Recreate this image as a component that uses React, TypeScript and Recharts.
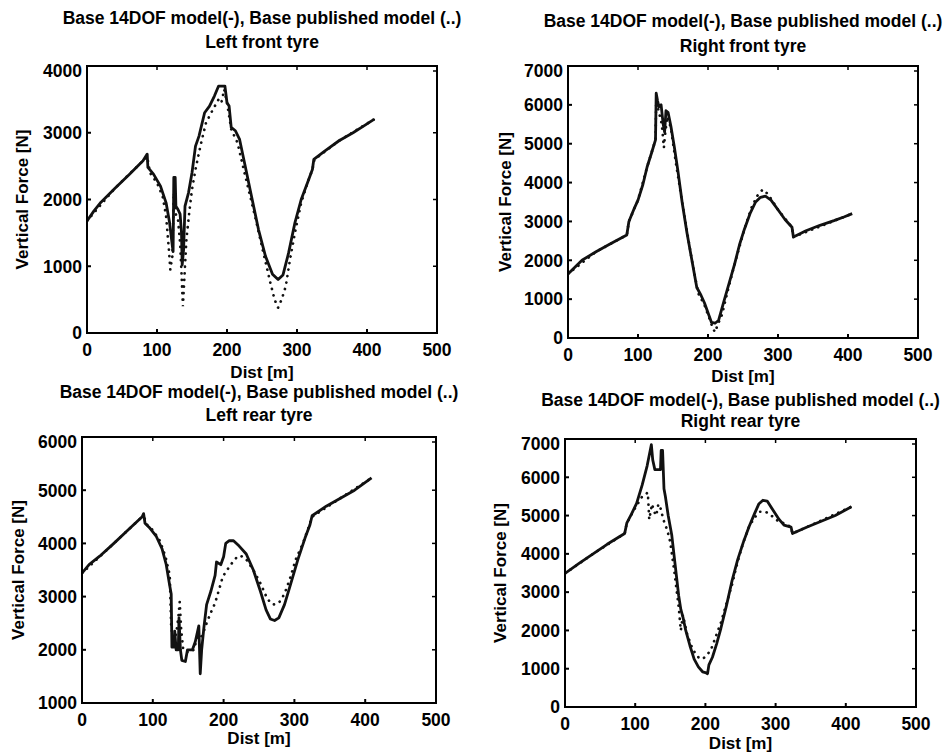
import { LineChart, Line, XAxis, YAxis, ReferenceArea } from "recharts";

// tick values
const distTicks = [0, 100, 200, 300, 400, 500];
const lfForceTicks = [0, 1000, 2000, 3000, 4000];
const sevenKTicks = [0, 1000, 2000, 3000, 4000, 5000, 6000, 7000];
const lrForceTicks = [1000, 2000, 3000, 4000, 5000, 6000];

const titleLine = "Base 14DOF model(-), Base published model (..)";
const tyreNames = ["Left front tyre", "Right front tyre", "Left rear tyre", "Right rear tyre"];

type Pt = [number, number];

// left front tyre: [dist m, force N]
const lfSolid: Pt[] = [
  [0, 1680], [10, 1830], [20, 1960], [40, 2170], [60, 2370], [80, 2580], [86, 2680], [87, 2480],
  [95, 2380], [105, 2200], [113, 1950], [118, 1650], [122, 1300], [123, 1220], [124, 2330], [126, 2330],
  [127, 1900], [130, 1850], [133, 1780], [135, 1500], [136, 1020], [138, 1250], [140, 1900], [145, 2100],
  [150, 2400], [155, 2800], [160, 2950], [168, 3300], [175, 3400], [182, 3550], [188, 3700], [197, 3700],
  [200, 3450], [203, 3400], [206, 3080], [212, 3030], [218, 2900], [225, 2550], [235, 2050], [245, 1550],
  [255, 1150], [265, 880], [273, 800], [280, 870], [288, 1200], [297, 1650], [306, 2000], [315, 2250],
  [322, 2450], [324, 2600], [340, 2730], [360, 2880], [380, 3000], [395, 3100], [410, 3200],
];
const lfDotted: Pt[] = [
  [0, 1680], [40, 2170], [80, 2580], [86, 2640], [90, 2400], [100, 2250], [108, 2050], [113, 1750],
  [117, 1250], [119, 950], [122, 1150], [124, 2100], [126, 1800], [130, 1700], [133, 1350], [135, 900],
  [137, 400], [139, 800], [142, 1400], [146, 1800], [150, 2150], [155, 2450], [162, 2800], [170, 3150],
  [180, 3350], [188, 3500], [192, 3450], [196, 3650], [200, 3450], [206, 3050], [215, 2850], [225, 2400],
  [240, 1750], [252, 1200], [262, 750], [268, 500], [273, 380], [278, 500], [284, 700], [290, 1100],
  [298, 1550], [306, 1950], [315, 2250], [322, 2450], [325, 2600], [360, 2880], [410, 3200],
];

// right front tyre
const rfSolid: Pt[] = [
  [0, 1650], [20, 2000], [40, 2220], [60, 2420], [84, 2650], [87, 3000], [95, 3350], [100, 3550],
  [107, 3950], [113, 4400], [120, 4800], [125, 5100], [126, 6300], [128, 6100], [130, 5950], [133, 6000],
  [136, 5500], [138, 5300], [140, 5850], [143, 5800], [147, 5450], [152, 4900], [157, 4300], [163, 3500],
  [170, 2700], [177, 2000], [184, 1300], [190, 1100], [195, 900], [200, 650], [205, 400], [210, 380],
  [215, 450], [222, 900], [230, 1400], [238, 1900], [245, 2400], [252, 2800], [260, 3200], [268, 3500],
  [275, 3620], [282, 3650], [290, 3550], [300, 3300], [310, 3050], [320, 2850], [322, 2600], [340, 2760],
  [360, 2900], [380, 3020], [395, 3120], [406, 3200],
];
const rfDotted: Pt[] = [
  [0, 1650], [40, 2220], [84, 2650], [87, 3000], [100, 3550], [113, 4400], [125, 5100], [126, 6100],
  [130, 5800], [134, 5500], [137, 4900], [139, 5300], [142, 5700], [147, 5400], [155, 4400], [163, 3500],
  [177, 2000], [186, 1150], [195, 850], [202, 500], [207, 250], [210, 150], [214, 350], [220, 600],
  [228, 1200], [238, 1900], [252, 2800], [262, 3350], [270, 3650], [278, 3820], [286, 3700], [300, 3300],
  [320, 2850], [322, 2600], [406, 3200],
];

// left rear tyre
const lrSolid: Pt[] = [
  [0, 3440], [10, 3600], [25, 3760], [45, 4000], [65, 4250], [85, 4500], [87, 4560], [89, 4380],
  [95, 4300], [105, 4130], [113, 3900], [119, 3600], [124, 3200], [126, 3050], [127, 2050], [130, 2050],
  [131, 2350], [133, 2000], [136, 2000], [137, 2600], [139, 2000], [141, 1800], [146, 1780], [149, 2000],
  [156, 2000], [160, 2150], [165, 2450], [167, 1550], [169, 2000], [172, 2400], [176, 2850], [182, 3100],
  [188, 3400], [190, 3650], [196, 3600], [200, 3750], [203, 4000], [208, 4050], [214, 4050], [222, 3950],
  [232, 3800], [242, 3500], [252, 3100], [260, 2750], [266, 2580], [272, 2550], [278, 2600], [286, 2850],
  [295, 3250], [305, 3700], [315, 4100], [322, 4350], [325, 4520], [345, 4700], [365, 4850], [385, 5000],
  [409, 5230],
];
const lrDotted: Pt[] = [
  [0, 3440], [45, 4000], [85, 4500], [88, 4480], [92, 4350], [100, 4250], [110, 4050], [118, 3750],
  [124, 3400], [126, 2400], [130, 2200], [133, 2300], [136, 2600], [138, 2900], [140, 2400], [143, 2000],
  [150, 1950], [158, 2000], [164, 2300], [168, 2200], [172, 2350], [176, 2500], [182, 2700], [188, 2880],
  [194, 3150], [199, 3380], [205, 3500], [210, 3600], [218, 3730], [224, 3770], [232, 3700], [242, 3500],
  [252, 3250], [262, 2950], [270, 2850], [278, 2880], [286, 3050], [294, 3350], [302, 3700], [312, 4000],
  [320, 4300], [325, 4500], [365, 4850], [409, 5230],
];

// right rear tyre
const rrSolid: Pt[] = [
  [0, 3490], [20, 3750], [40, 4000], [60, 4250], [85, 4530], [88, 4800], [95, 5050], [102, 5320],
  [110, 5800], [117, 6300], [123, 6850], [125, 6450], [128, 6200], [136, 6200], [137, 6700], [139, 6700],
  [141, 5700], [143, 5500], [147, 5000], [152, 4500], [157, 3700], [162, 2900], [165, 2550], [168, 2350],
  [172, 2000], [178, 1600], [184, 1250], [190, 1050], [196, 920], [200, 900], [203, 870], [205, 1100],
  [210, 1300], [216, 1650], [222, 2050], [230, 2650], [238, 3300], [246, 3850], [254, 4300], [262, 4700],
  [270, 5050], [276, 5300], [282, 5400], [288, 5380], [296, 5150], [305, 4900], [312, 4750], [322, 4700],
  [324, 4530], [345, 4700], [365, 4850], [385, 5000], [408, 5230],
];
const rrDotted: Pt[] = [
  [0, 3490], [40, 4000], [85, 4530], [88, 4800], [100, 5200], [110, 5500], [118, 5600], [120, 4900],
  [124, 5300], [127, 5100], [130, 5000], [133, 5300], [136, 5200], [140, 4900], [146, 4600], [150, 4300],
  [156, 3500], [162, 2600], [165, 2000], [168, 2400], [174, 1900], [182, 1500], [190, 1300], [196, 1250],
  [202, 1350], [208, 1500], [214, 1800], [222, 2200], [230, 2700], [238, 3200], [246, 3800], [254, 4300],
  [262, 4700], [270, 4950], [278, 5100], [286, 5100], [294, 5000], [304, 4850], [312, 4800], [322, 4700],
  [324, 4530], [408, 5230],
];

const FONT = "'Liberation Sans', Arial, Helvetica, sans-serif";
const labelStyle = { fill: "#000", fontSize: 17, fontWeight: 700, fontFamily: FONT };

const toRows = (pts: Pt[]) => pts.map(([d, f]) => ({ d, f }));

// plot-box placement on the page (px)
const panels = [
  { x: 87, y: 66, w: 350, h: 267, t1: 18, t2: 42, xl: 39, yl: 65, name: tyreNames[0], yDomain: [0, 4000], yTicks: lfForceTicks, solid: lfSolid, dotted: lfDotted },
  { x: 568, y: 66, w: 350, h: 272, t1: 21, t2: 46, xl: 38, yl: 63, name: tyreNames[1], yDomain: [0, 7000], yTicks: sevenKTicks, solid: rfSolid, dotted: rfDotted },
  { x: 82, y: 437, w: 354, h: 266, t1: 392, t2: 415, xl: 35, yl: 64, name: tyreNames[2], yDomain: [1000, 6000], yTicks: lrForceTicks, solid: lrSolid, dotted: lrDotted },
  { x: 565, y: 439, w: 351, h: 268, t1: 400, t2: 421, xl: 36, yl: 65, name: tyreNames[3], yDomain: [0, 7000], yTicks: sevenKTicks, solid: rrSolid, dotted: rrDotted },
];

type PanelProps = (typeof panels)[number];

const TICK_IN = 4;
const X_MARGIN = 15;
const Y_MARGIN = 9;

function Title({ cx, cy, text }: { cx: number; cy: number; text: string }) {
  return (
    <div
      style={{
        position: "absolute",
        left: cx,
        top: cy,
        transform: "translate(-50%, -50%)",
        whiteSpace: "nowrap",
        fontFamily: FONT,
        fontWeight: 700,
        fontSize: 17.5,
        lineHeight: "20px",
        color: "#000",
      }}
    >
      {text}
    </div>
  );
}

// bottom tick label plus the matching inward mark on the top edge
const makeXTick = (h: number) => (props: any) => {
  const { x, y, payload } = props;
  const axisY = y + TICK_IN - X_MARGIN;
  return (
    <g>
      <line x1={x} x2={x} y1={axisY - h} y2={axisY - h + TICK_IN} stroke="#000" strokeWidth={1.5} />
      <text x={x} y={y} dy="0.71em" textAnchor="middle" fontFamily={FONT} fontSize={17.5} fontWeight={700} fill="#000">
        {payload.value}
      </text>
    </g>
  );
};

// left tick label plus the matching inward mark on the right edge
const makeYTick = (w: number) => (props: any) => {
  const { x, y, payload } = props;
  const axisX = x - TICK_IN + Y_MARGIN;
  return (
    <g>
      <line x1={axisX + w - TICK_IN} x2={axisX + w} y1={y} y2={y} stroke="#000" strokeWidth={1.5} />
      <text x={x} y={y} dy="0.36em" textAnchor="end" fontFamily={FONT} fontSize={17.5} fontWeight={700} fill="#000">
        {payload.value}
      </text>
    </g>
  );
};

function Panel(p: PanelProps) {
  const L = p.yl * 2;
  const T = 4;
  const R = 30;
  const B = 56;
  return (
    <>
      <Title cx={p.x + p.w / 2} cy={p.t1} text={titleLine} />
      <Title cx={p.x + p.w / 2} cy={p.t2} text={p.name} />
      <div style={{ position: "absolute", left: p.x - L, top: p.y - T }}>
        <LineChart width={p.w + L + R} height={p.h + T + B} margin={{ top: T, right: R, left: 0, bottom: 0 }}>
          <XAxis
            dataKey="d"
            type="number"
            domain={[0, 500]}
            ticks={distTicks}
            allowDataOverflow
            height={B}
            stroke="#000"
            strokeWidth={2}
            tickSize={-TICK_IN}
            tickMargin={X_MARGIN}
            tick={makeXTick(p.h)}
            label={{ value: "Dist [m]", position: "insideTop", offset: p.xl - 6, style: labelStyle }}
          />
          <YAxis
            type="number"
            domain={p.yDomain}
            ticks={p.yTicks}
            allowDataOverflow
            width={L}
            stroke="#000"
            strokeWidth={2}
            tickSize={-TICK_IN}
            tickMargin={Y_MARGIN}
            tick={makeYTick(p.w)}
            label={{ value: "Vertical Force [N]", angle: -90, position: "center", style: labelStyle }}
          />
          <ReferenceArea
            x1={0}
            x2={500}
            y1={p.yDomain[0]}
            y2={p.yDomain[1]}
            fill="none"
            fillOpacity={0}
            stroke="#000"
            strokeWidth={2}
            strokeOpacity={1}
          />
          <Line
            data={toRows(p.dotted)}
            dataKey="f"
            type="linear"
            stroke="#111"
            strokeWidth={2.7}
            strokeDasharray="0.1 6.5"
            strokeLinecap="round"
            dot={false}
            isAnimationActive={false}
          />
          <Line
            data={toRows(p.solid)}
            dataKey="f"
            type="linear"
            stroke="#111"
            strokeWidth={2.8}
            strokeLinejoin="round"
            dot={false}
            isAnimationActive={false}
          />
        </LineChart>
      </div>
    </>
  );
}

export default function App() {
  return (
    <div style={{ position: "absolute", left: 0, top: 0, width: 949, height: 753, background: "#fff", overflow: "hidden" }}>
      {panels.map((p) => (
        <Panel key={p.name} {...p} />
      ))}
    </div>
  );
}
